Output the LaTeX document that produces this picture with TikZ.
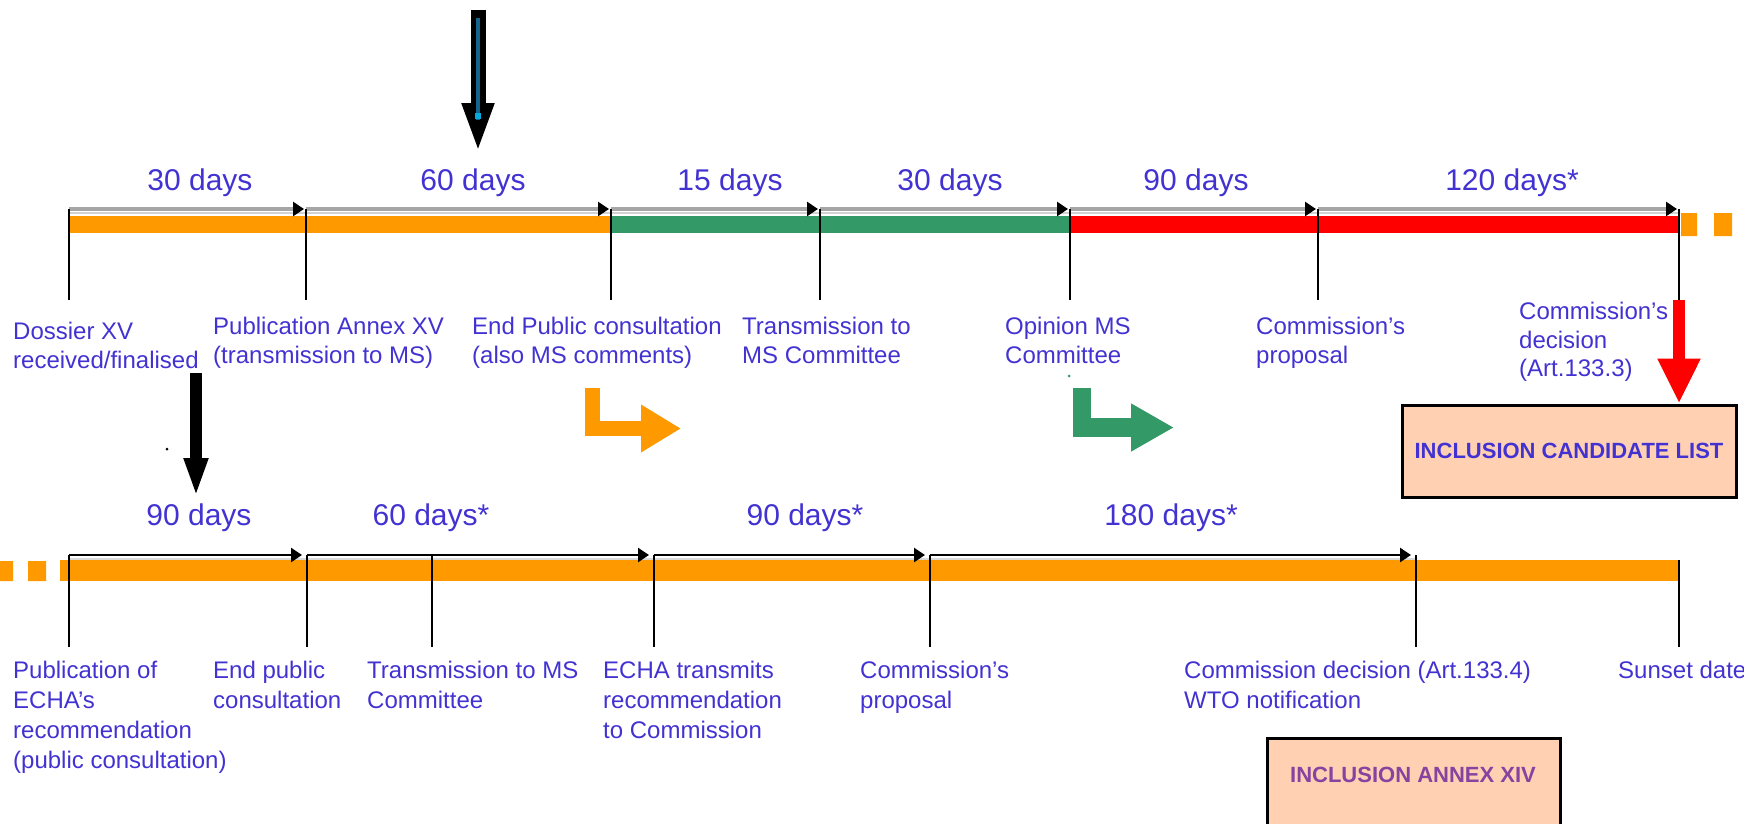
\documentclass[tikz,border=0pt]{standalone}
\usepackage{fontspec}
\setmainfont{Liberation Sans}
\usetikzlibrary{arrows.meta}
\definecolor{txtblue}{RGB}{66,50,210}
\definecolor{boxtxt}{RGB}{132,68,160}
\definecolor{barorange}{RGB}{255,153,0}
\definecolor{bargreen}{RGB}{51,153,102}
\definecolor{barred}{RGB}{255,0,0}
\definecolor{boxfill}{RGB}{255,208,178}
\definecolor{shaftblue}{RGB}{20,100,140}
\definecolor{shaftcyan}{RGB}{0,170,220}
\tikzset{
  tick/.style={line width=2.5pt},
  topseg/.style={line width=4pt,gray!70,shorten >=2pt,
    -{Triangle[length=11pt,width=14pt,color=black]}},
  botseg/.style={line width=2.5pt,shorten >=5pt,
    -{Triangle[length=11pt,width=14pt]}},
  dayslbl/.style={anchor=base,inner sep=0pt,text=txtblue,
    font=\fontsize{30}{32}\selectfont},
  toplbl/.style={anchor=north west,align=left,inner sep=0pt,text=txtblue,
    font=\fontsize{24}{29}\selectfont},
  botlbl/.style={toplbl,font=\fontsize{24}{30}\selectfont},
  incbox/.style={draw,line width=3pt,fill=boxfill,inner sep=0pt,
    font=\bfseries\fontsize{22}{24}\selectfont}
}
\begin{document}
\begin{tikzpicture}[x=1pt,y=-1pt,line join=miter]
	\useasboundingbox (0,0) rectangle (1744,823);
	%==upper timeline
	\fill[barorange] (69,216) rectangle (611,233);
	\fill[bargreen] (611,216) rectangle (1070,233);
	\fill[barred] (1070,216) rectangle (1679,233);
	\fill[barorange] (1681,213) rectangle (1697,236) (1714,213) rectangle (1732,236);
	\draw[gray!35,line width=2.5pt] (69,213)--(1679,213);
	\foreach \x [count=\i] in {69,306,611,820,1070,1318,1679}
	\coordinate (u\i) at (\x,209);
	\foreach \i/\j in {1/2,2/3,3/4,4/5,5/6,6/7}
	\draw[topseg] (u\i)--(u\j);
	\foreach \i in {1,...,7}
	\draw[tick] (u\i)--++(0,91)coordinate(ub\i);
	\node[dayslbl] (ud1) at (200,190) {30 days};
	\node[dayslbl] (ud2) at (473,190) {60 days};
	\node[dayslbl] (ud3) at (730,190) {15 days};
	\node[dayslbl] (ud4) at (950,190) {30 days};
	\node[dayslbl] (ud5) at (1196,190) {90 days};
	\node[dayslbl] (ud6) at (1512,190) {120 days*};
	\node[toplbl] (ul1) at (13,322) {Dossier XV\\received/finalised};
	\node[toplbl] (ul2) at (213,317) {Publication Annex XV\\(transmission to MS)};
	\node[toplbl] (ul3) at (472,317) {End Public consultation\\(also MS comments)};
	\node[toplbl] (ul4) at (742,317) {Transmission to\\MS Committee};
	\node[toplbl] (ul5) at (1005,317) {Opinion MS\\Committee};
	\node[toplbl] (ul6) at (1256,317) {Commission's\\proposal};
	\node[toplbl,font=\fontsize{24}{28.5}\selectfont] (ul7) at (1519,302) {Commission's\\decision\\(Art.133.3)};
	%==candidate list
	\node[incbox,minimum width=334pt,minimum height=92pt,text=txtblue] (cand) at (1569,451) {INCLUSION CANDIDATE LIST};
	\draw[barred,line width=12pt,-{Triangle[length=45pt,width=40pt]}] (ub7)--(cand.north-|ub7);
	%==arrows between the lines
	\coordinate (s1) at (478,10);
	\coordinate (s2) at (478,153);
	\draw[line width=15pt,-{Triangle[length=50pt,width=29pt]}] (s1)--(s2);
	\draw[shaftblue,line width=3.5pt] (478,18)--(478,120);
	\fill[shaftcyan] (475,113) rectangle (481,119);
	\coordinate (s3) at (196,373);
	\coordinate (s4) at (196,497);
	\draw[line width=12pt,-{Triangle[length=39pt,width=22pt]}] (s3)--(s4);
	\fill (167,449) circle (1.5);
	\fill[bargreen] (1069,376) circle (1.5);
	\draw[barorange,line width=15pt,-{Triangle[length=40pt,width=45pt]}] (592.5,388)|-(681,428.5);
	\draw[bargreen,line width=18.5pt,-{Triangle[length=43pt,width=45pt]}] (1082,388)|-(1174,427.5);
	%==lower timeline
	\fill[barorange] (60,560) rectangle (1679,581);
	\fill[barorange] (0,561) rectangle (13,581) (28,561) rectangle (46,581);
	\draw[gray!30,line width=2pt] (69,559)--(1416,559);
	\foreach \x [count=\i] in {69,307,432,654,930,1416}
	\coordinate (l\i) at (\x,555);
	\coordinate (l7) at (1679,560);
	\foreach \i/\j in {1/2,2/4,4/5,5/6}
	\draw[botseg] (l\i)--(l\j);
	\foreach \i in {1,...,7}
	\draw[tick] (l\i)--(l\i|-0,647)coordinate(lb\i);
	\node[dayslbl] (ld1) at (199,525) {90 days};
	\node[dayslbl] (ld2) at (431,525) {60 days*};
	\node[dayslbl] (ld3) at (805,525) {90 days*};
	\node[dayslbl] (ld4) at (1171,525) {180 days*};
	\node[botlbl] (ll1) at (13,661) {Publication of\\ECHA's\\recommendation\\(public consultation)};
	\node[botlbl] (ll2) at (213,661) {End public\\consultation};
	\node[botlbl] (ll3) at (367,661) {Transmission to MS\\Committee};
	\node[botlbl] (ll4) at (603,661) {ECHA transmits\\recommendation\\to Commission};
	\node[botlbl] (ll5) at (860,661) {Commission's\\proposal};
	\node[botlbl] (ll6) at (1184,661) {Commission decision (Art.133.4)\\WTO notification};
	\node[botlbl] (ll7) at (1618,661) {Sunset date};
	%==annex XIV
	\draw[line width=3pt,fill=boxfill] (1267,738) rectangle (1560,826);
	\node[inner sep=0pt,text=boxtxt,font=\bfseries\fontsize{22}{24}\selectfont] (annex) at (1413,775) {INCLUSION ANNEX XIV};
\end{tikzpicture}
\end{document}
